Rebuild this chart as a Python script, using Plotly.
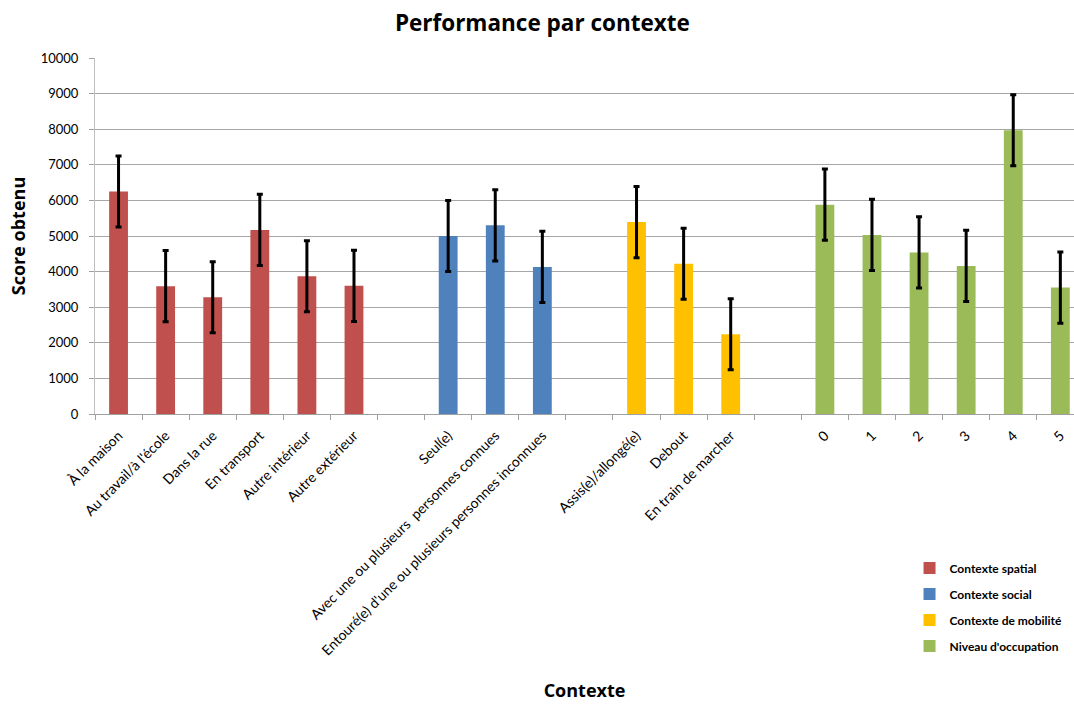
import plotly.graph_objects as go

spatial_labels = ["À la maison", "Au travail/à l'école", "Dans la rue", "En transport", "Autre intérieur", "Autre extérieur"]
spatial_values = [6250, 3590, 3280, 5170, 3870, 3600]
spatial_err = [1000, 1000, 1000, 1000, 1000, 1000]

social_labels = ["Seul(e)", "Avec une ou plusieurs  personnes connues", "Entouré(e) d'une ou plusieurs personnes inconnues"]
social_values = [5000, 5300, 4130]
social_err = [1000, 1000, 1000]

mobility_labels = ["Assis(e)/allongé(e)", "Debout", "En train de marcher"]
mobility_values = [5390, 4220, 2240]
mobility_err = [1000, 1000, 1000]

occupation_labels = ["0", "1", "2", "3", "4", "5"]
occupation_values = [5880, 5030, 4540, 4160, 7970, 3550]
occupation_err = [1000, 1000, 1000, 1000, 1000, 1000]

y_ticks = [0, 1000, 2000, 3000, 4000, 5000, 6000, 7000, 8000, 9000, 10000]

gaps = [" ", "  ", "   "]
category_order = (spatial_labels + [gaps[0]] + social_labels + [gaps[1]]
                  + mobility_labels + [gaps[2]] + occupation_labels)

series = [
    ("Contexte spatial", spatial_labels, spatial_values, spatial_err, "#C0504D"),
    ("Contexte social", social_labels, social_values, social_err, "#4F81BD"),
    ("Contexte de mobilité", mobility_labels, mobility_values, mobility_err, "#FFC000"),
    ("Niveau d'occupation", occupation_labels, occupation_values, occupation_err, "#9BBB59"),
]

fig = go.Figure()
for i, (name, labels, vals, errs, color) in enumerate(series):
    fig.add_trace(go.Bar(
        x=labels, y=vals, name=name, legendgroup=f"g{i}",
        marker=dict(color=color, line=dict(width=0)),
        width=0.4,
        error_y=dict(type="data", array=errs, visible=True,
                     color="black", thickness=3, width=3),
    ))

fig.update_layout(
    width=1074, height=705,
    paper_bgcolor="white", plot_bgcolor="white",
    margin=dict(l=95, r=0, t=58, b=291, autoexpand=False),
    barmode="overlay",
    font=dict(family="Lato, Open Sans, sans-serif", color="#000000"),
    title=dict(text="<b>Performance par contexte</b>", x=0.505, xanchor="center",
               y=0.967, yanchor="middle",
               font=dict(size=22.5, family="Open Sans, Lato, sans-serif")),
    showlegend=True,
    legend=dict(x=0.832, xanchor="left", y=-0.392, yanchor="top",
                font=dict(size=12, family="Lato, sans-serif", weight="bold"),
                traceorder="grouped", tracegroupgap=7,
                itemsizing="constant", bgcolor="rgba(0,0,0,0)"),
    xaxis=dict(
        type="category", categoryorder="array", categoryarray=category_order,
        range=[-0.5, 20.29], tickson="boundaries",
        ticks="outside", ticklen=5, tickcolor="#A0A0A0", tickwidth=1,
        tickangle=-45, tickfont=dict(size=14), ticklabelstandoff=7,
        showline=True, linecolor="#A0A0A0", linewidth=1,
        showgrid=False, automargin=False,
        title=dict(text="<b>Contexte</b>", standoff=26,
                   font=dict(size=18, family="Open Sans, Lato, sans-serif")),
    ),
    yaxis=dict(
        range=[0, 10000], tickvals=y_ticks, ticktext=[str(v) for v in y_ticks],
        ticks="outside", ticklen=5, tickcolor="#A0A0A0", ticklabelstandoff=8,
        tickfont=dict(size=13),
        showline=True, linecolor="#BFBFBF", linewidth=1,
        showgrid=True, gridcolor="#A6A6A6", gridwidth=1,
        zeroline=False, automargin=False,
        title=dict(text="<b>Score obtenu</b>", standoff=10,
                   font=dict(size=18, family="Open Sans, Lato, sans-serif")),
    ),
)

fig.write_html("out.html", config={"displayModeBar": False},
               post_script="document.body.style.margin='0';")
